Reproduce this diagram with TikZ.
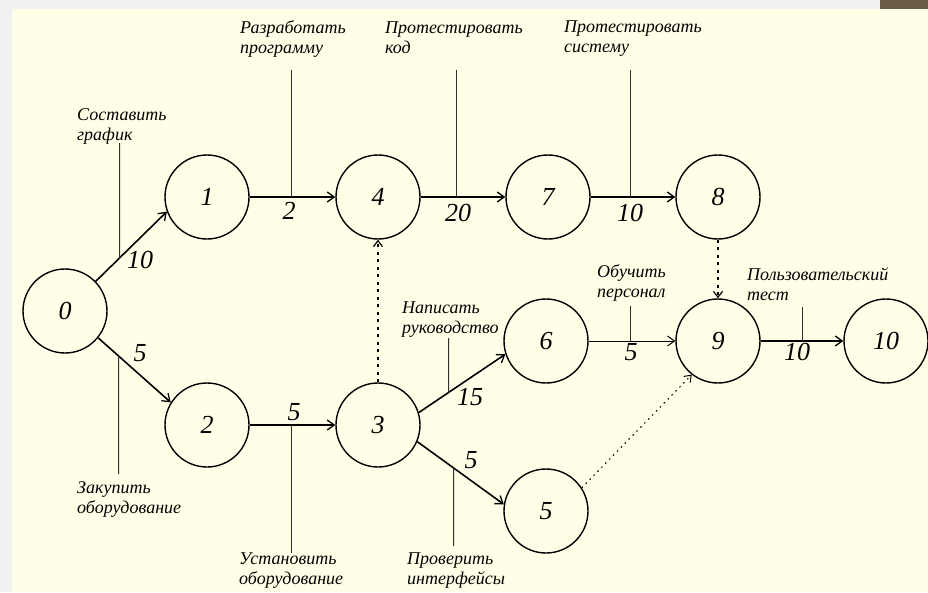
\documentclass[tikz,border=0pt]{standalone}
\usepackage{fontspec}
\setmainfont{Liberation Serif}
\usetikzlibrary{arrows.meta}
\definecolor{cream}{HTML}{FFFFE8}
\definecolor{frame}{HTML}{F1F1F1}
\definecolor{brownbar}{HTML}{6B5E48}
\definecolor{annline}{HTML}{2E2E2E}
\begin{document}
\begin{tikzpicture}[x=1pt,y=-1pt,
  state/.style={circle,draw,line width=1.4pt,minimum size=84pt,inner sep=0pt,
    font=\fontsize{26}{30}\selectfont\itshape},
  act/.style={line width=1.6pt,-{Straight Barb[length=7pt,width=10pt,line width=1.3pt]}},
  thinact/.style={line width=0.9pt,-{Straight Barb[length=7pt,width=10pt,line width=1pt]}},
  dummy/.style={line width=1.6pt,dash pattern=on 3pt off 4.5pt,-{Straight Barb[length=6pt,width=9pt,line width=1.2pt]}},
  finedummy/.style={line width=1pt,dash pattern=on 1.6pt off 4pt,-{Straight Barb[length=6pt,width=9pt,line width=1pt]}},
  lbl/.style={inner sep=0pt,font=\fontsize{26}{30}\selectfont\itshape},
  ann/.style={anchor=north west,inner sep=0pt,align=left,font=\fontsize{18}{20}\selectfont\itshape},
  annl/.style={draw=annline,line width=1pt}
]
\useasboundingbox (0,0) rectangle (928,592);
\fill[frame] (0,0) rectangle (928,592);
\fill[cream] (12,9) rectangle (928,592);
\fill[brownbar] (880,0) rectangle (928,9);

% states
\node[state] (n0) at (65,311) {0};
\node[state] (n1) at (207,197) {1};
\node[state] (n4) at (378,197) {4};
\node[state] (n7) at (548,197) {7};
\node[state] (n8) at (718,197) {8};
\node[state] (n2) at (207,425) {2};
\node[state] (n3) at (378,425) {3};
\node[state] (n6) at (546,341) {6};
\node[state] (n9) at (718,341) {9};
\node[state] (n10) at (886,341) {10};
\node[state] (n5) at (546,511) {5};

% activities
\draw[act] (n0.44) -- (n1.200);
\draw[act] (n0.-39) -- (n2.148);
\draw[act] (n1) -- (n4);
\draw[act] (n4) -- (n7);
\draw[act] (n7) -- (n8);
\draw[act] (n2) -- (n3);
\draw[act] (n3.17) -- (n6.198);
\draw[act] (n3.-23) -- (n5.171);
\draw[thinact] (n6) -- (n9);
\draw[act] (n9) -- (n10);
\draw[dummy] (n3) -- (n4);
\draw[dummy] (n8) -- (n9);
\draw[finedummy] (n5.33) -- (n9.232);

% durations
\node[lbl] (l01) at (140,260) {10};
\node[lbl] (l02) at (140,353) {5};
\node[lbl] (l14) at (289,211) {2};
\node[lbl] (l47) at (458,213) {20};
\node[lbl] (l78) at (630,213) {10};
\node[lbl] (l23) at (294,412) {5};
\node[lbl] (l36) at (470,397) {15};
\node[lbl] (l35) at (471,460) {5};
\node[lbl] (l69) at (631,352) {5};
\node[lbl] (l910) at (797,352) {10};

% activity names
\node[ann] (a1) at (77,106) {\strut Составить\\график};
\node[ann] (a2) at (240,19) {\strut Разработать\\программу};
\node[ann] (a3) at (385,19) {\strut Протестировать\\код};
\node[ann] (a4) at (564,18) {\strut Протестировать\\систему};
\node[ann] (a5) at (77,479) {\strut Закупить\\оборудование};
\node[ann] (a6) at (239,550) {\strut Установить\\оборудование};
\node[ann] (a7) at (407,550) {\strut Проверить\\интерфейсы};
\node[ann] (a8) at (402,299) {\strut Написать\\руководство};
\node[ann] (a9) at (597,263) {\strut Обучить\\персонал};
\node[ann] (a10) at (747,266) {\strut Пользовательский\\тест};

% leader lines
\coordinate (c1a) at (119.5,143); \coordinate (c1b) at (119.5,320);
\draw[annl] (c1a) -- (intersection of n0.44--n1.200 and c1a--c1b);
\coordinate (c2) at (291.5,70);
\draw[annl] (c2) -- (c2 |- n1);
\coordinate (c3) at (456.5,70);
\draw[annl] (c3) -- (c3 |- n4);
\coordinate (c4) at (630.5,70);
\draw[annl] (c4) -- (c4 |- n7);
\coordinate (c5a) at (118.5,474); \coordinate (c5b) at (118.5,300);
\draw[annl] (c5a) -- (intersection of n0.-39--n2.148 and c5a--c5b);
\coordinate (c6) at (291.5,553);
\draw[annl] (c6) -- (c6 |- n2);
\coordinate (c7a) at (453.5,546); \coordinate (c7b) at (453.5,400);
\draw[annl] (c7a) -- (intersection of n3.-23--n5.171 and c7a--c7b);
\coordinate (c8a) at (448.5,338); \coordinate (c8b) at (448.5,450);
\draw[annl] (c8a) -- (intersection of n3.17--n6.198 and c8a--c8b);
\coordinate (c9) at (630.5,306);
\draw[annl] (c9) -- (c9 |- n6);
\coordinate (c10) at (802.5,307);
\draw[annl] (c10) -- (c10 |- n9);
\end{tikzpicture}
\end{document}
